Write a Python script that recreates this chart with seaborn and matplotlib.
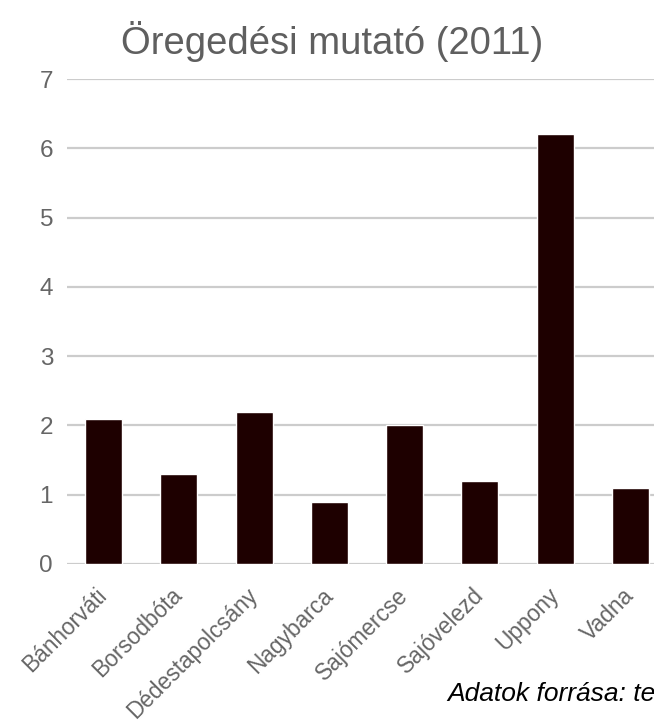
import matplotlib
matplotlib.use("Agg")
import matplotlib.pyplot as plt
import seaborn as sns
import pandas as pd

categories = ["Bánhorváti", "Borsodbóta", "Dédestapolcsány", "Nagybarca",
              "Sajómercse", "Sajóvelezd", "Uppony", "Vadna"]
values = [2.1, 1.3, 2.2, 0.9, 2.0, 1.2, 6.2, 1.1]
yticks = [0, 1, 2, 3, 4, 5, 6, 7]
title = "Öregedési mutató (2011)"
footer = "Adatok forrása: te"

sns.set_style("white")
plt.rcParams["font.family"] = ["Liberation Sans", "DejaVu Sans"]

df = pd.DataFrame({"telepules": categories, "ertek": values})

W, H = 654, 727
fig = plt.figure(figsize=(W / 100, H / 100), dpi=100)
ax = fig.add_axes([67 / W, 1 - 564 / H, 1 - 67 / W, (564 - 79) / H])

sns.barplot(data=df, x="telepules", y="ertek", color="#1e0000",
            width=0.49, saturation=1, ax=ax, zorder=3)

ax.set_xlim(-0.485, 7.312)
ax.set_ylim(0, 7)
ax.set_yticks(yticks)
ax.set_yticklabels([str(t) for t in yticks])
ax.yaxis.grid(True, color="#cccccc", linewidth=1.6, zorder=0)
ax.xaxis.grid(False)
ax.set_axisbelow(True)
for s in ax.spines.values():
    s.set_visible(False)
ax.set_xlabel("")
ax.set_ylabel("")
ax.tick_params(axis="y", length=0, pad=10, labelsize=17.5, labelcolor="#666666")
ax.tick_params(axis="x", length=0, pad=20, labelsize=16.3, labelcolor="#666666")
for lab in ax.get_xticklabels():
    lab.set_rotation(45)
    lab.set_ha("right")
    lab.set_va("center")
    lab.set_rotation_mode("anchor")

fig.text(332 / W, 1 - 54 / H, title, ha="center", va="baseline",
         fontsize=27.5, color="#5f5f5f")
fig.text(447 / W, 1 - 701 / H, footer, ha="left", va="baseline",
         fontsize=19, style="italic", color="#000000")

fig.savefig("out.png", dpi=100)
